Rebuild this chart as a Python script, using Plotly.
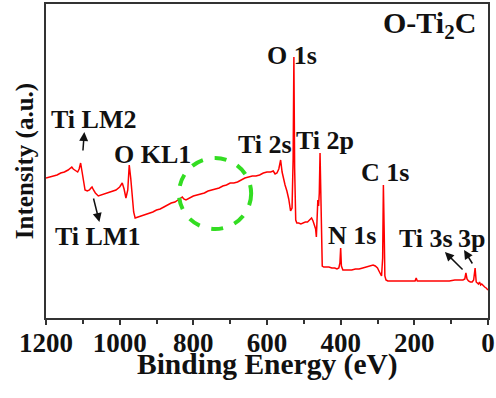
import plotly.graph_objects as go

# Binding energy (eV) and intensity (a.u.)
energy = [1200, 1190, 1180, 1170, 1160, 1150, 1140, 1133, 1130, 1126, 1120, 1114, 1110, 1106, 1102,
          1098, 1094, 1088, 1082, 1078, 1075, 1071, 1066, 1058, 1050, 1040, 1030, 1020, 1010, 1000,
          996, 993, 988, 983, 978, 974, 970, 966, 962, 958, 950, 940, 930, 920, 910, 900, 890, 880,
          870, 860, 850, 840, 834, 830, 826, 820, 810, 800, 790, 780, 770, 760, 750, 740, 730, 720,
          710, 700, 690, 680, 670, 660, 650, 640, 630, 620, 610, 600, 590, 583, 578, 573, 568, 563,
          559, 555, 551, 546, 541, 536, 532, 529, 527, 525, 522, 519, 514, 508, 502, 496, 490, 484,
          479, 475, 471, 468, 466, 464, 462, 460, 458, 456, 454, 452, 450, 446, 440, 432, 424, 416,
          410, 405, 402, 400, 398, 394, 388, 380, 370, 360, 350, 340, 330, 320, 312, 306, 300, 296,
          292, 289, 286, 284, 282, 280, 277, 272, 265, 255, 245, 235, 225, 215, 205, 198, 195, 192,
          185, 175, 165, 150, 135, 120, 105, 90, 78, 68, 63, 60, 57, 53, 48, 43, 39, 35, 32, 29,
          26, 23, 20, 17, 13, 9, 5, 2, 0]
intensity = [140, 141, 142, 143, 145, 146, 148, 150, 151, 149, 147, 146, 149, 155, 146,
             136, 128, 127, 128, 130, 131, 128, 125, 122, 123, 124, 125, 127, 128, 131,
             134, 135, 129, 120, 128, 153, 140, 122, 106, 100, 101, 102, 104, 105, 106, 108, 109, 111,
             113, 115, 116, 118, 120, 121, 119, 118, 120, 122, 123, 124, 125, 127, 128, 129, 130, 132,
             133, 135, 135, 136, 138, 140, 141, 142, 142, 143, 145, 146, 146, 147, 144, 145, 149, 158,
             146, 138, 133, 127, 119, 107, 110, 160, 261, 150, 98, 95, 95, 94, 95, 96, 96, 98,
             100, 97, 93, 89, 81, 95, 118, 112, 125, 165, 120, 88, 52, 51, 51, 51, 50, 50,
             49, 50, 55, 70, 52, 48, 48, 48, 48, 49, 49, 50, 51, 52, 53, 52, 50, 47,
             43, 42, 60, 133, 90, 42, 38, 37, 37, 37, 37, 37, 37, 37, 37, 37, 40, 37,
             37, 37, 37, 37, 37, 37, 37, 38, 38, 38, 39, 45, 39, 37, 36, 36, 38, 50, 36, 35,
             34, 36, 33, 34, 32, 31, 30, 29, 28]

tick_values = [1200, 1000, 800, 600, 400, 200, 0]
tick_labels = ["1200", "1000", "800", "600", "400", "200", "0"]
minor_values = [1100, 900, 700, 500, 300, 100]

fig = go.Figure()
fig.add_trace(go.Scatter(x=energy, y=intensity, mode="lines",
                         line=dict(color="#ff0000", width=1.5), showlegend=False))

FONT = "Liberation Serif, Times New Roman, serif"

fig.add_shape(type="circle", xref="x", yref="y", x0=839, x1=643, y0=89, y1=160,
              line=dict(color="#33dd22", width=4, dash="dash"))

labels = [
    ("Ti LM2", 1070, 199), ("Ti LM1", 1061, 82), ("O KL1", 912, 164),
    ("Ti 2s", 605, 174), ("O 1s", 531, 263), ("Ti 2p", 442, 178),
    ("C 1s", 280, 146), ("N 1s", 370, 83), ("Ti 3s", 169, 80), ("3p", 44, 80),
]
for t, x, y in labels:
    fig.add_annotation(x=x, y=y, xref="x", yref="y", text=f"<b>{t}</b>", showarrow=False,
                       font=dict(family=FONT, size=26, color="#111111"),
                       xanchor="center", yanchor="middle")

fig.add_annotation(x=160, y=293, xref="x", yref="y", text="<b>O-Ti<sub>2</sub>C</b>",
                   showarrow=False, font=dict(family=FONT, size=30, color="#111111"),
                   xanchor="center", yanchor="middle")

arrows = [
    (1096, 186, 1100, 166), (1055, 96, 1072, 121),
    (117, 66, 65, 47), (65, 68, 40, 53),
]
for hx, hy, tx, ty in arrows:
    fig.add_annotation(x=hx, y=hy, ax=tx, ay=ty, xref="x", yref="y", axref="x", ayref="y",
                       text="", showarrow=True, arrowhead=2, arrowsize=1.2,
                       arrowwidth=1.5, arrowcolor="#111111")

# x-axis title as a paper annotation so it sits right below the tick labels
fig.add_annotation(x=0.5, y=-0.148, xref="paper", yref="paper", text="<b>Binding Energy (eV)</b>",
                   showarrow=False, font=dict(family=FONT, size=29.5, color="#111111"),
                   xanchor="center", yanchor="middle")

fig.update_xaxes(range=[1200, 0], tickvals=tick_values,
                 ticktext=[f"<b>{t}</b>" for t in tick_labels],
                 ticks="outside", ticklen=5, tickwidth=1.5, tickcolor="#333333",
                 ticklabelstandoff=-5,
                 minor=dict(tickvals=minor_values, ticks="outside",
                            ticklen=4, tickwidth=1.5, tickcolor="#333333"),
                 showline=True, linecolor="#333333", linewidth=1.5, mirror=True,
                 showgrid=False, zeroline=False, automargin=False,
                 tickfont=dict(family=FONT, size=27, color="#111111"))
fig.update_yaxes(range=[0, 314], showticklabels=False, ticks="",
                 showline=True, linecolor="#333333", linewidth=1.5, mirror=True,
                 showgrid=False, zeroline=False, automargin=False,
                 title=dict(text="<b>Intensity (a.u.)</b>", standoff=4,
                            font=dict(family=FONT, size=25, color="#111111")))

fig.update_layout(width=496, height=398, margin=dict(l=46, r=8, t=4, b=80),
                  plot_bgcolor="white", paper_bgcolor="white")

fig.write_html("out.html", config={"displayModeBar": False},
               post_script="document.body.style.margin='0';")
